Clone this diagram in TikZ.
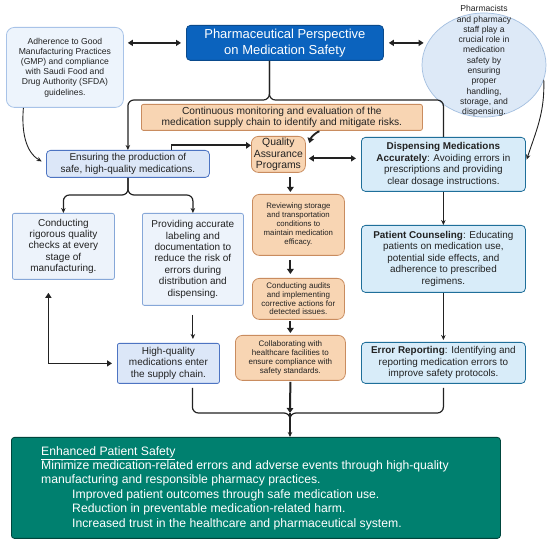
\documentclass[tikz,border=0pt]{standalone}
\usepackage{fontspec}
\setmainfont{Liberation Sans}
\usetikzlibrary{arrows.meta,shapes.geometric,calc}
\definecolor{titlefill}{HTML}{0B63BE}
\definecolor{titledraw}{HTML}{0A4A8C}
\definecolor{palefill}{HTML}{EDF4FC}
\definecolor{paledraw}{HTML}{A8C3E8}
\definecolor{ellfill}{HTML}{DDE9F7}
\definecolor{elldraw}{HTML}{A3BFE0}
\definecolor{orfill}{HTML}{F8D5B3}
\definecolor{ordraw}{HTML}{C98C5F}
\definecolor{midfill}{HTML}{DCE7F8}
\definecolor{middraw}{HTML}{4D74C2}
\definecolor{lightfill}{HTML}{EDF3FB}
\definecolor{lightdraw}{HTML}{86A7D8}
\definecolor{dispfill}{HTML}{D8ECF9}
\definecolor{dispdraw}{HTML}{1F6F9A}
\definecolor{enhfill}{HTML}{00806F}
\definecolor{enhdraw}{HTML}{00463D}
\definecolor{ink}{HTML}{222222}
\tikzset{
  base/.style={anchor=north west, inner sep=0pt, align=center, rounded corners=4pt, line width=0.8pt, text=ink},
  titlebox/.style={base, fill=titlefill, draw=titledraw, text=white, font=\fontsize{13}{16}\selectfont},
  gmpbox/.style={base, fill=palefill, draw=paledraw, rounded corners=8pt, font=\fontsize{8.6}{10.2}\selectfont},
  orbox/.style={base, fill=orfill, draw=ordraw, rounded corners=7pt, font=\fontsize{7.8}{9}\selectfont},
  monbox/.style={base, fill=orfill, draw=ordraw, rounded corners=2pt, font=\fontsize{10.2}{11.5}\selectfont},
  midbox/.style={base, fill=midfill, draw=middraw, font=\fontsize{10}{11.5}\selectfont},
  lightbox/.style={base, fill=lightfill, draw=lightdraw, rounded corners=2pt, font=\fontsize{10}{11.4}\selectfont},
  dispbox/.style={base, fill=dispfill, draw=dispdraw, font=\fontsize{9.9}{11.5}\selectfont},
  thin/.style={draw=ink, line width=0.9pt, -{Stealth[length=5pt,width=4.5pt]}},
  plain/.style={draw=ink, line width=1.2pt, rounded corners=6pt},
  brace/.style={draw=ink, line width=1.2pt, rounded corners=6pt, -{Stealth[length=5pt,width=4.5pt]}},
  thk/.style={draw=ink, line width=2pt, -{Triangle[length=5pt,width=6.5pt]}},
  dbl/.style={draw=ink, line width=1.8pt, {Triangle[length=5pt,width=6pt]}-{Triangle[length=5pt,width=6pt]}},
}
\begin{document}
\begin{tikzpicture}[x=1pt,y=-1pt]
\useasboundingbox (0,0) rectangle (550,545);
\fill[white] (0,0) rectangle (550,545);

% top row
\node[titlebox, minimum width=197pt, minimum height=35pt] (title) at (186,25) {Pharmaceutical Perspective\\on Medication Safety};
\node[gmpbox, minimum width=117pt, minimum height=80pt] (gmp) at (6,27) {Adherence to Good\\Manufacturing Practices\\(GMP) and compliance\\with Saudi Food and\\Drug Authority (SFDA)\\guidelines.};
\node[ellipse, draw=elldraw, fill=ellfill, line width=0.7pt, minimum width=124pt, minimum height=104pt, inner sep=0pt] (ell) at (484,65) {};
\node[align=center, inner sep=0pt, text=ink, font=\fontsize{8.6}{10.3}\selectfont] (elltxt) at (484,61) {Pharmacists\\and pharmacy\\staff play a\\crucial role in\\medication\\safety by\\ensuring\\proper\\handling,\\storage, and\\dispensing.};

\node[monbox, minimum width=281pt, minimum height=26pt] (mon) at (141,104) {Continuous monitoring and evaluation of the\\medication supply chain to identify and mitigate risks.};

% left column
\node[midbox, minimum width=163pt, minimum height=27pt] (ens) at (46,150) {Ensuring the production of\\safe, high-quality medications.};
\node[lightbox, minimum width=102pt, minimum height=66pt] (cond) at (12,213) {Conducting\\rigorous quality\\checks at every\\stage of\\manufacturing.};
\node[lightbox, minimum width=101pt, minimum height=92pt] (prov) at (142,213) {Providing accurate\\labeling and\\documentation to\\reduce the risk of\\errors during\\distribution and\\dispensing.};
\node[midbox, minimum width=102pt, minimum height=40pt, rounded corners=2pt] (hq) at (117,343) {High-quality\\medications enter\\the supply chain.};

% centre column
\node[orbox, minimum width=54pt, minimum height=36pt, font=\fontsize{10.4}{11.5}\selectfont] (qa) at (251,136) {Quality\\Assurance\\Programs};
\node[orbox, minimum width=92pt, minimum height=61pt] (rev) at (252,194) {Reviewing storage\\and transportation\\conditions to\\maintain medication\\efficacy.};
\node[orbox, minimum width=92pt, minimum height=41pt, font=\fontsize{8}{8.8}\selectfont] (aud) at (252,278) {Conducting audits\\and implementing\\corrective actions for\\detected issues.};
\node[orbox, minimum width=110pt, minimum height=45pt, font=\fontsize{8}{9.2}\selectfont] (col) at (235,335) {Collaborating with\\healthcare facilities to\\ensure compliance with\\safety standards.};

% right column
\node[dispbox, minimum width=164pt, minimum height=54pt] (disp) at (361,137) {\textbf{Dispensing Medications}\\\textbf{Accurately}: Avoiding errors in\\prescriptions and providing\\clear dosage instructions.};
\node[dispbox, minimum width=164pt, minimum height=67pt] (pc) at (361,225) {\textbf{Patient Counseling}: Educating\\patients on medication use,\\potential side effects, and\\adherence to prescribed\\regimens.};
\node[dispbox, minimum width=164pt, minimum height=41pt] (er) at (361,342) {\textbf{Error Reporting}: Identifying and\\reporting medication errors to\\improve safety protocols.};

% bottom
\node[base, fill=enhfill, draw=enhdraw, minimum width=489pt, minimum height=101pt, rounded corners=3pt] (enh) at (11,437) {};
\node[anchor=north west, inner sep=0pt, align=left, text=white, font=\fontsize{12.2}{14.4}\selectfont] (enhtxt) at (41,446) {\underline{Enhanced Patient Safety}\\Minimize medication-related errors and adverse events through high-quality\\manufacturing and responsible pharmacy practices.\\\hspace*{31pt}Improved patient outcomes through safe medication use.\\\hspace*{31pt}Reduction in preventable medication-related harm.\\\hspace*{31pt}Increased trust in the healthcare and pharmaceutical system.};

% coordinates
\coordinate (tb) at (284,100);
\coordinate (eb) at (128,195);
\coordinate (mg) at (290,413);
\coordinate (mg2) at (290,424);

% connectors
\draw[dbl, shorten <=5pt, shorten >=4pt] (title.west) -- (title.west -| gmp.east);
\draw[dbl, shorten <=5pt, shorten >=-2pt] (title.east) -- (title.east -| ell.west);
\draw[brace] ([xshift=-15.5pt]title.south) -- ([xshift=-15.5pt]title.south |- tb) -| (ens.north);
\draw[plain] ([xshift=-15.5pt]title.south) -- ([xshift=-15.5pt]title.south |- tb) -| (disp.north);
\draw[thin, shorten >=5pt] ([xshift=-41.5pt]gmp.south) to[out=-95,in=150] (ens.west);
\draw[thin, shorten >=3pt] (ell.-14) to[out=-88,in=72] ([yshift=2pt]disp.east);
\draw[thk, line width=1.8pt] ([xshift=43.5pt]ens.north) |- ([yshift=9pt]qa.west);
\draw[thk, line width=1.8pt, shorten <=7pt, shorten >=2pt] ([xshift=44.5pt]mon.south) to[bend right=35] ([shift={(3pt,-9pt)}]qa.north east);
\draw[dbl, shorten <=3pt, shorten >=5pt] ([yshift=-4pt]qa.east) -- ([yshift=-4pt]qa.east -| disp.west);
\draw[brace] (ens.south) -- (eb) -| (cond.north);
\draw[brace] (ens.south) -- (eb) -| (prov.north);
\draw[thin, shorten <=9pt, shorten >=4pt] (prov.south) -- (prov.south |- hq.north);
\draw[draw=ink, line width=1.5pt, {Triangle[length=5pt,width=6pt]}-{Triangle[length=5pt,width=6pt]}, shorten <=5pt, shorten >=13pt] (hq.west) -| ([xshift=-15pt]cond.south);
\draw[thk, shorten <=4pt, shorten >=2pt] (qa.south -| col.south) -- (rev.north -| col.south);
\draw[thk, shorten <=4pt, shorten >=4pt] (rev.south -| col.south) -- (aud.north -| col.south);
\draw[thk, shorten <=1pt, shorten >=2pt] (aud.south -| col.south) -- (col.north);
\draw[thk, shorten <=1pt] (col.south) -- (mg);
\draw[thin] (disp.south) -- (pc.north);
\draw[thin, shorten >=2pt] (pc.south) -- (er.north);
\draw[plain, shorten <=4pt] (er.south) |- (mg) -- (mg2);
\draw[plain, shorten <=4pt] ([xshift=24pt]hq.south) |- (mg) -- (mg2);
\draw[thin, line width=1.2pt] (mg) -- (mg |- enh.north);
\end{tikzpicture}
\end{document}
